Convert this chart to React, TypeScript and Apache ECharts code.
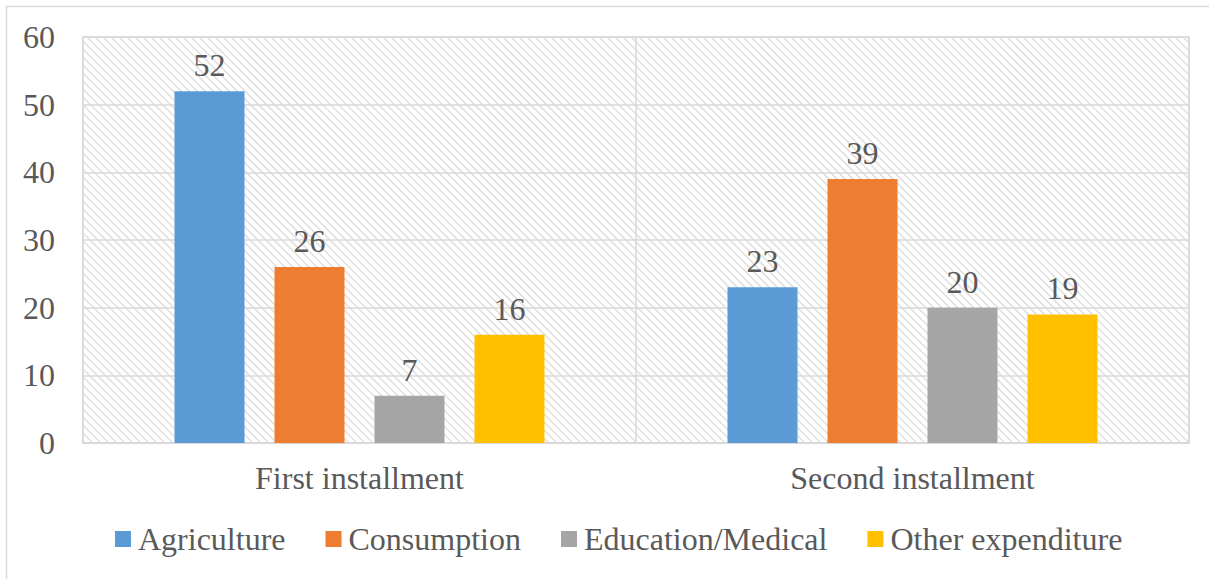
import React, { useEffect, useRef } from "react";
import * as echarts from "echarts";

const categories = ["First installment", "Second installment"];
const seriesNames = ["Agriculture", "Consumption", "Education/Medical", "Other expenditure"];
const agriculture = [52, 23];
const consumption = [26, 39];
const educationMedical = [7, 20];
const otherExpenditure = [16, 19];
const seriesColors = ["#5B9BD5", "#ED7D31", "#A5A5A5", "#FFC000"];
const yTicks = { min: 0, max: 60, interval: 10 };

const FONT = "Liberation Serif";
const TEXT = "#595959";
const LINE = "#D9D9D9";

// Plot area box, in pixels
const PLOT = { left: 83, top: 37, right: 1189, bottom: 443 };

// Diagonal "\" hatching clipped to the plot box
function hatchLines(step: number) {
  const { left, top, right, bottom } = PLOT;
  const out: any[] = [];
  for (let c = left - bottom + 2; c < right - top; c += step) {
    let sx = c + top, sy = top;
    if (sx < left) { sx = left; sy = left - c; }
    let ex = c + bottom, ey = bottom;
    if (ex > right) { ex = right; ey = right - c; }
    out.push({
      type: "line",
      silent: true,
      shape: { x1: sx, y1: sy, x2: ex, y2: ey },
      style: { stroke: "#E1E1E1", lineWidth: 1.6 },
    });
  }
  return out;
}

export default function App() {
  const ref = useRef<HTMLDivElement>(null);

  useEffect(() => {
    if (!ref.current) return;
    const chart = echarts.init(ref.current, undefined, { renderer: "svg" });
    const values = [agriculture, consumption, educationMedical, otherExpenditure];

    chart.setOption({
      animation: false,
      backgroundColor: "#ffffff",
      graphic: [
        {
          type: "rect",
          z: -10,
          silent: true,
          shape: { x: 6.5, y: 6.5, width: 1220, height: 600 },
          style: { fill: "none", stroke: LINE, lineWidth: 1.5 },
        },
        { type: "group", z: -5, silent: true, children: hatchLines(8) },
      ],
      grid: {
        left: PLOT.left,
        right: 1209 - PLOT.right,
        top: PLOT.top,
        bottom: 579 - PLOT.bottom,
        show: true,
        backgroundColor: "transparent",
        borderColor: LINE,
        borderWidth: 1.5,
      },
      legend: {
        left: 110,
        top: 518,
        icon: "rect",
        itemWidth: 16,
        itemHeight: 16,
        itemGap: 40,
        textStyle: { fontFamily: FONT, fontSize: 32, color: TEXT, padding: [0, 0, 0, 2] },
        data: seriesNames,
      },
      xAxis: {
        type: "category",
        data: categories,
        axisLine: { lineStyle: { color: LINE, width: 1.5 } },
        axisTick: { show: false },
        splitLine: { show: true, lineStyle: { color: LINE, width: 1.5 } },
        axisLabel: { fontFamily: FONT, fontSize: 32, color: TEXT, margin: 19 },
      },
      yAxis: {
        type: "value",
        min: yTicks.min,
        max: yTicks.max,
        interval: yTicks.interval,
        axisLine: { show: false },
        axisTick: { show: false },
        splitLine: { lineStyle: { color: LINE, width: 1.5 } },
        axisLabel: { fontFamily: FONT, fontSize: 32, color: TEXT, margin: 28 },
      },
      series: seriesNames.map((name, i) => ({
        name,
        type: "bar",
        data: values[i],
        barWidth: 70,
        barGap: "42.857%",
        itemStyle: { color: seriesColors[i] },
        label: {
          show: true,
          position: "top",
          distance: 10,
          fontFamily: FONT,
          fontSize: 32,
          color: TEXT,
        },
      })),
    });

    return () => chart.dispose();
  }, []);

  return (
    <div
      ref={ref}
      style={{ position: "absolute", left: 0, top: 0, width: 1209, height: 579 }}
    />
  );
}
